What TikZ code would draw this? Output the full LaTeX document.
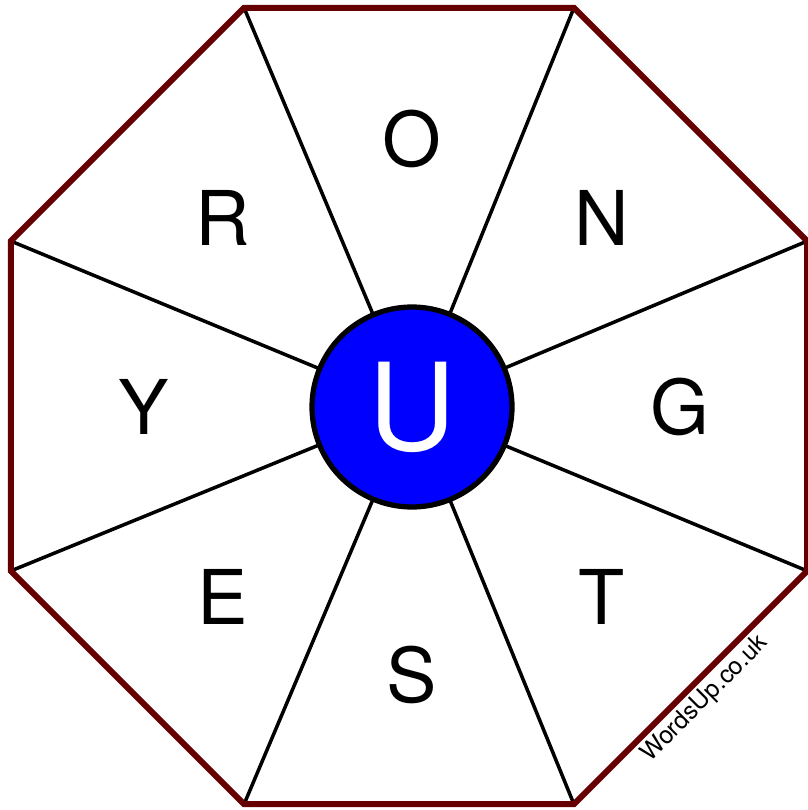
\documentclass[tikz,border=0pt]{standalone}
\usepackage{fontspec}
\setmainfont{TeX Gyre Heros}
\definecolor{rimred}{RGB}{102,0,0}
\definecolor{hubblue}{RGB}{0,0,255}

\begin{document}
\begin{tikzpicture}[
  x=0.02cm, y=-0.02cm,
  spoke/.style={line width=2pt, black},
  rim/.style={line width=3.4pt, rimred, line join=miter},
  hub/.style={circle, draw, line width=3pt, fill=hubblue, minimum size=4cm, inner sep=0pt, text=white, font=\fontsize{69}{69}\selectfont},
  letter/.style={font=\fontsize{43}{43}\selectfont}
]
\useasboundingbox (0,0) rectangle (807,810);
\coordinate (o) at (409,406);
\coordinate (c) at (412,407);

% corners of the octagon
\foreach \i [evaluate=\i as \ang using 22.5+45*(\i-1)] in {1,...,8}
  \coordinate (v\i) at ([shift={(o)}] \ang:431);

% spokes
\foreach \i in {1,...,8}
  \draw[spoke] (c) -- (v\i);

\draw[rim] (v1) -- (v2) -- (v3) -- (v4) -- (v5) -- (v6) -- (v7) -- (v8) -- cycle;

\node[hub] (centre) at (c) {U};

% outer letters
\foreach \a/\l in {270/O, 315/N, 0/G, 45/T, 90/S, 135/E, 180/Y, 225/R}
  \node[letter] (l\l) at ([shift={(c)}] \a:268) {\l};

\node[rotate=45, font=\fontsize{14}{14}\selectfont] (mark) at (705,699) {WordsUp.co.uk};
\end{tikzpicture}
\end{document}
